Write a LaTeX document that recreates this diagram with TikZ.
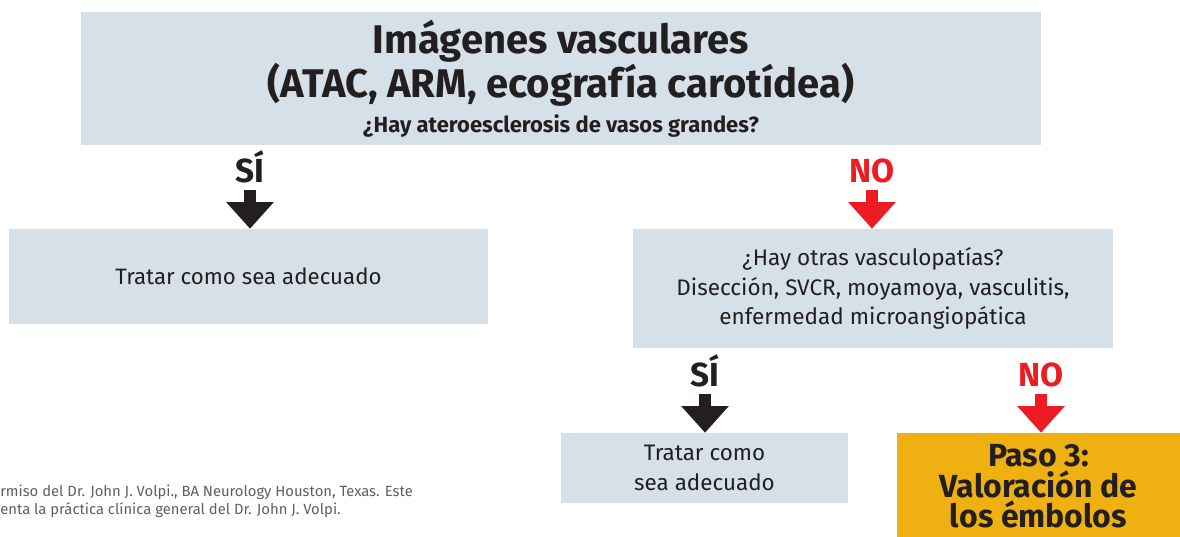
\documentclass[tikz,border=0pt]{standalone}
\usepackage{fontspec}
\setmainfont{Fira Sans}
\usetikzlibrary{arrows.meta,positioning}
\definecolor{boxblue}{RGB}{214,224,232}
\definecolor{pasogold}{RGB}{238,177,17}
\definecolor{noRed}{RGB}{237,28,36}
\definecolor{inkblack}{RGB}{35,31,32}
\definecolor{notegray}{RGB}{95,95,95}

\begin{document}
\begin{tikzpicture}[x=0.75pt, y=-0.75pt,
  box/.style={fill=boxblue, shape=rectangle, inner sep=0pt, align=center, text=inkblack},
  answer/.style={font=\bfseries\fontsize{25}{28}\selectfont, inner sep=0pt, anchor=base},
  bigarrow/.style={line width=9.5pt, -{Triangle[width=34.5pt,length=20pt]}, shorten <=5pt}]
\useasboundingbox (0,0) rectangle (1180,536);
\node[box, minimum width=720pt, minimum height=99.75pt, font=\bfseries\fontsize{30}{33}\selectfont] (1) at (561,78.5)
  {Imágenes vasculares\\(ATAC, ARM, ecografía carotídea)\\[-7pt]{\fontsize{16.5}{20}\selectfont ¿Hay ateroesclerosis de vasos grandes?}};
\node[box, minimum width=359.25pt, minimum height=71.25pt, font=\fontsize{16.7}{22}\selectfont] (2) at (248.5,276.5)
  {Tratar como sea adecuado};
\node[box, minimum width=360pt, minimum height=89.25pt, font=\fontsize{16.9}{22}\selectfont] (3) at (873,288.5)
  {¿Hay otras vasculopatías?\\Disección, SVCR, moyamoya, vasculitis,\\enfermedad microangiopática};
\node[box, minimum width=215.25pt, minimum height=52.5pt, font=\fontsize{16.8}{22.5}\selectfont] (4) at (704.5,468)
  {Tratar como\\sea adecuado};
\node[box, fill=pasogold, minimum width=212.25pt, minimum height=80.25pt, font=\bfseries\fontsize{24}{23}\selectfont] (5) at (1038.5,486.5)
  {Paso 3:\\Valoración de\\los émbolos};
% answers
\node[answer, text=inkblack] (6) at (250,182) {SÍ};
\node[answer, text=noRed] (7) at (872,182) {NO};
\node[answer, text=inkblack] (8) at (705,386) {SÍ};
\node[answer, text=noRed] (9) at (1041,386) {NO};
\draw[bigarrow, inkblack] (6.south) -- (2.north -| 6.south);
\draw[bigarrow, noRed] (7.south) -- (3.north -| 7.south);
\draw[bigarrow, inkblack] (8.south) -- (4.north -| 8.south);
\draw[bigarrow, noRed] (9.south) -- (5.north -| 9.south);
% footnote
\node[anchor=north west, inner sep=0pt, align=left, text=notegray, font=\fontsize{11.1}{13.5}\selectfont] (10) at (0,485)
  {rmiso del Dr. John J. Volpi., BA Neurology Houston, Texas. Este\\enta la práctica clínica general del Dr. John J. Volpi.};
\end{tikzpicture}
\end{document}
